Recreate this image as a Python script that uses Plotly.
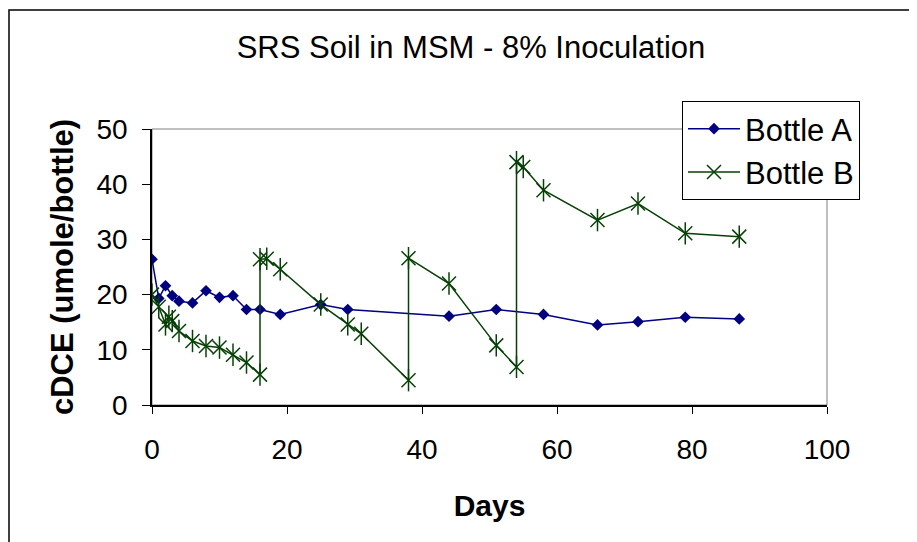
import plotly.graph_objects as go

# Bottle A (blue diamonds)
days_a = [0, 1, 2, 3, 4, 6, 8, 10, 12, 14, 16, 19, 25, 29, 44, 51, 58, 66, 72, 79, 87]
cdce_a = [26.4, 19.3, 21.6, 19.8, 18.8, 18.5, 20.7, 19.5, 19.8, 17.3, 17.3, 16.4, 18.2,
          17.3, 16.1, 17.3, 16.4, 14.5, 15.1, 15.9, 15.6]

# Bottle B (green stars) - re-spiked several times, hence the vertical jumps
days_b = [0, 1, 2, 2.5, 3, 4, 6, 8, 10, 12, 14, 16, 16, 17, 19, 25, 29, 31, 38, 38,
          44, 51, 54, 54, 55, 58, 66, 72, 79, 87]
cdce_b = [20.0, 17.8, 14.6, 16.0, 15.2, 13.4, 11.6, 10.7, 10.4, 9.1, 7.7, 5.5, 26.4, 26.5,
          24.6, 18.2, 14.6, 12.9, 4.5, 26.6, 22.0, 10.8, 6.9, 44.0, 43.1, 38.9, 33.5, 36.5,
          31.1, 30.5]

x_ticks = [0, 20, 40, 60, 80, 100]
y_ticks = [0, 10, 20, 30, 40, 50]

blue = '#000080'
green = '#064006'
font = 'Liberation Sans, Arial, sans-serif'

# the page body adds an 8px margin, so the figure is 8px smaller than the window
W, H = 909, 534
L, R, T, B = 144, 819, 121, 397   # plot area in figure pixels
pw, ph = R - L, B - T


def px_x(px):
    return (px - L) / pw


def px_y(py):
    return (B - py) / ph


fig = go.Figure()

fig.add_trace(go.Scatter(x=days_a, y=cdce_a, mode='lines+markers', name='Bottle A',
                         line=dict(color=blue, width=1.5),
                         marker=dict(symbol='diamond', size=9, color=blue)))

fig.add_trace(go.Scatter(x=days_b, y=cdce_b, mode='lines+markers', name='Bottle B',
                         line=dict(color=green, width=1.5),
                         marker=dict(symbol='x-thin-open', size=14, color=green,
                                     line=dict(color=green, width=1.5))))
# vertical stroke of the Excel star marker
fig.add_trace(go.Scatter(x=days_b, y=cdce_b, mode='markers', showlegend=False, hoverinfo='skip',
                         marker=dict(symbol='line-ns-open', size=16, color=green,
                                     line=dict(color=green, width=1.5))))

# plot area border (grey) and outer chart border (black)
fig.add_shape(type='rect', xref='paper', yref='paper', x0=0, y0=0, x1=1, y1=1,
              line=dict(color='#808080', width=1), layer='below')
fig.add_shape(type='rect', xref='paper', yref='paper',
              x0=px_x(1), y0=px_y(2), x1=px_x(930), y1=px_y(560),
              line=dict(color='black', width=1.5))

fig.update_layout(
    width=W, height=H,
    margin=dict(l=L, r=W - R, t=T, b=H - B),
    paper_bgcolor='white', plot_bgcolor='white',
    font=dict(family=font, color='black', size=28),
    title=dict(text='SRS Soil in MSM - 8% Inoculation', x=px_x(463), xref='paper',
               xanchor='center', y=1 - 39 / H, yanchor='middle',
               font=dict(size=31)),
    xaxis=dict(range=[0, 100], tickvals=x_ticks, ticks='outside', ticklen=7, tickcolor='black',
               showline=True, linecolor='black', linewidth=1.5, showgrid=False, zeroline=False,
               tickfont=dict(size=28), ticklabelstandoff=12,
               title=dict(text='<b>Days</b>', font=dict(size=30), standoff=31)),
    yaxis=dict(range=[0, 50], tickvals=y_ticks, ticks='outside', ticklen=8, tickcolor='black',
               showline=True, linecolor='black', linewidth=1.5, showgrid=False, zeroline=False,
               tickfont=dict(size=28), ticklabelstandoff=9,
               title=dict(text='<b>cDCE (umole/bottle)</b>', font=dict(size=31), standoff=14)),
    legend=dict(x=px_x(674), y=px_y(93), xanchor='left', yanchor='top',
                bgcolor='white', bordercolor='black', borderwidth=1, itemwidth=52,
                font=dict(size=31), tracegroupgap=0),
    showlegend=True,
)

fig.write_html("out.html")
